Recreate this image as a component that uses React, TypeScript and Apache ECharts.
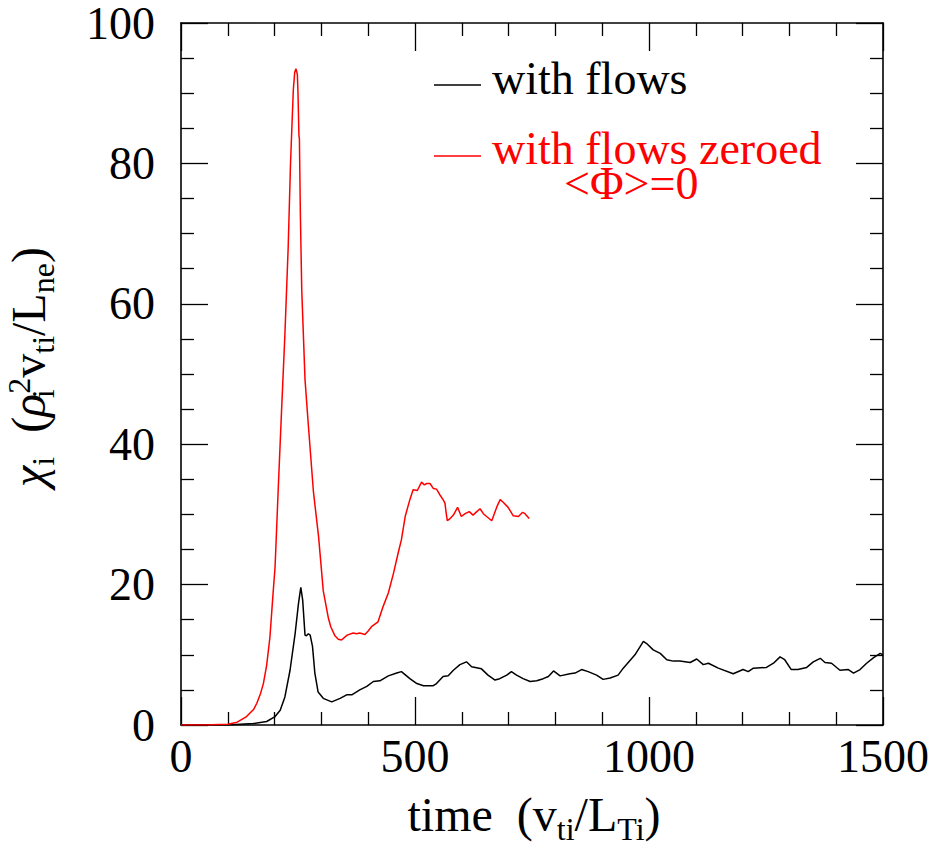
import React, { useEffect, useRef } from "react";
import * as echarts from "echarts";

// time values (v_ti / L_Ti) and chi_i values for the run with flows (black)
const flowsTime = [
  0, 100, 154, 183, 201, 212, 222, 233, 244, 251, 256, 260, 265, 268, 272, 276, 281, 286, 293, 304,
  322, 340, 354, 365, 382, 397, 411, 425, 443, 461, 471, 489, 504, 518, 539, 546, 560, 571, 582, 596,
  610, 621, 642, 656, 671, 681, 696, 706, 717, 731, 746, 760, 774, 785, 796, 810, 831, 842, 856, 870,
  888, 902, 917, 934, 945, 970, 988, 995, 1009, 1024, 1038, 1052, 1066, 1088, 1102, 1116, 1127, 1148,
  1180, 1201, 1212, 1223, 1251, 1266, 1280, 1290, 1304, 1318, 1337, 1351, 1366, 1376, 1390, 1408,
  1426, 1437, 1451, 1465, 1480, 1494, 1500,
];
const flowsChi = [
  0, 0, 0.2, 0.5, 1.2, 2.1, 4, 7.8, 13.1, 17.3, 19.6, 17.8, 12.8, 12.7, 13, 12.8, 11.2, 7.4, 4.7, 3.8,
  3.3, 3.8, 4.3, 4.3, 5, 5.5, 6.2, 6.3, 7, 7.4, 7.6, 6.6, 5.9, 5.6, 5.6, 5.9, 6.9, 7, 7.8, 8.6,
  9, 8.3, 8, 7.1, 6.4, 6.6, 7.1, 7.6, 7.1, 6.6, 6.2, 6.3, 6.6, 6.9, 7.7, 7, 7.3, 7.4, 7.9, 7.6,
  7.1, 6.5, 6.7, 7.1, 8.1, 10, 11.9, 11.6, 10.7, 10.2, 9.3, 9.1, 9.1, 8.9, 9.4, 8.6, 8.8, 8.1,
  7.3, 7.9, 7.6, 8.1, 8.2, 8.8, 9.7, 9.3, 7.9, 7.9, 8.2, 9, 9.5, 8.9, 8.8, 7.8,
  7.9, 7.4, 7.9, 8.8, 9.6, 10.2, 10,
];

// run with flows zeroed, <Phi>=0 (red)
const zeroedTime = [
  0, 50, 100, 120, 140, 155, 162, 170, 176, 183, 190, 197, 201, 208, 215, 222, 229, 234, 240, 243,
  245.6, 248.6, 250, 252, 253, 255, 258, 265, 272, 283, 294, 304, 315, 320, 329, 336, 343, 355, 368,
  375, 382, 393, 400, 407, 421, 432, 443, 454, 464, 471, 479, 489, 496, 505, 514, 520, 525, 532, 539,
  546, 553, 560, 564, 567, 569, 575, 582, 591, 599, 607, 616, 624, 632, 639, 646, 653, 664, 675, 682,
  689, 699, 710, 721, 730, 735, 744,
];
const zeroedChi = [
  0, 0, 0.1, 0.4, 1.2, 2.2, 3.1, 4.5, 5.9, 8.5, 12.5, 19, 22.5, 34, 45, 55.6, 68, 80, 90.5, 93,
  93.5, 92.7, 90, 84, 83.5, 73, 62, 49.2, 42.8, 33.2, 26.8, 19.1, 15.2, 14, 12.7, 12.2, 12.1, 12.8, 13.1,
  13, 13.1, 12.9, 13.4, 14, 14.7, 16.9, 18.8, 21.6, 24.5, 26.4, 29.7, 32.1, 33.5, 33.4, 34.6, 34.2, 34.4, 34.4, 33.7,
  33.6, 32.8, 32.1, 31.6, 30, 29.1, 29.4, 29.9, 31, 29.7, 30.1, 30.4, 29.9, 30.4, 30.8, 30.1, 29.7, 29.1, 31.1, 32.1,
  31.7, 31, 29.8, 29.7, 30.3, 30.1, 29.4,
];

const xTicks = { min: 0, max: 1500, interval: 500, minorSplit: 5 };
const yTicks = { min: 0, max: 100, interval: 20, minorSplit: 4 };

const legendLabels = ["with flows", "with flows zeroed", "<Φ>=0"];

const FONT = "'Liberation Serif', 'Times New Roman', serif";

export default function App() {
  const ref = useRef<HTMLDivElement>(null);

  useEffect(() => {
    if (!ref.current) return;
    const chart = echarts.init(ref.current, null, { renderer: "svg" });

    const axisCommon = (showLabel: boolean, margin: number, major: number, split: number) => ({
      type: "value" as const,
      axisLine: { show: true, onZero: false, lineStyle: { color: "#000", width: 1.6 } },
      axisTick: { show: true, inside: true, length: major, lineStyle: { color: "#000", width: 1.3 } },
      minorTick: { show: true, splitNumber: split, length: 13, lineStyle: { color: "#000", width: 1.3 } },
      splitLine: { show: false },
      minorSplitLine: { show: false },
      axisLabel: {
        show: showLabel,
        margin,
        fontSize: 46,
        lineHeight: 34,
        fontFamily: FONT,
        color: "#000",
        formatter: (v: number) => String(v),
      },
    });

    const rich = {
      m: { fontSize: 48, fontFamily: FONT, fill: "#000", lineHeight: 62, verticalAlign: "middle" },
      g: { fontSize: 48, fontFamily: FONT, fontStyle: "italic", fill: "#000", lineHeight: 62, verticalAlign: "middle" },
      s: { fontSize: 32, fontFamily: FONT, fill: "#000", lineHeight: 26, verticalAlign: "bottom" },
      sz: { fontSize: 32, fontFamily: FONT, fill: "#000", lineHeight: 26, verticalAlign: "bottom", width: 0.1 },
      p: { fontSize: 32, fontFamily: FONT, fill: "#000", lineHeight: 32, verticalAlign: "top", padding: [6, 0, 0, 0] },
    };

    chart.setOption({
      animation: false,
      backgroundColor: "#fff",
      grid: { left: 181, right: 55, top: 23, bottom: 122, containLabel: false },
      xAxis: [
        { ...axisCommon(true, 14, 28, xTicks.minorSplit), position: "bottom", min: xTicks.min, max: xTicks.max, interval: xTicks.interval },
        { ...axisCommon(false, 14, 28, xTicks.minorSplit), position: "top", min: xTicks.min, max: xTicks.max, interval: xTicks.interval },
      ],
      yAxis: [
        { ...axisCommon(true, 26, 27, yTicks.minorSplit), position: "left", min: yTicks.min, max: yTicks.max, interval: yTicks.interval },
        { ...axisCommon(false, 26, 27, yTicks.minorSplit), position: "right", min: yTicks.min, max: yTicks.max, interval: yTicks.interval },
      ],
      series: [
        {
          name: legendLabels[0],
          type: "line",
          xAxisIndex: 0,
          yAxisIndex: 0,
          showSymbol: false,
          symbol: "none",
          lineStyle: { color: "#000", width: 1.5 },
          data: flowsTime.map((t, i) => [t, flowsChi[i]]),
        },
        {
          name: legendLabels[1] + " " + legendLabels[2],
          type: "line",
          xAxisIndex: 0,
          yAxisIndex: 0,
          showSymbol: false,
          symbol: "none",
          lineStyle: { color: "#ff0000", width: 1.5 },
          data: zeroedTime.map((t, i) => [t, zeroedChi[i]]),
        },
      ],
      graphic: [
        { type: "line", shape: { x1: 434, y1: 85, x2: 481, y2: 85 }, style: { stroke: "#000", lineWidth: 1.5 } },
        {
          type: "text", x: 492, y: 78,
          style: { text: legendLabels[0], font: `46px ${FONT}`, fill: "#000", align: "left", verticalAlign: "middle", lineHeight: 32 },
        },
        { type: "line", shape: { x1: 434, y1: 156, x2: 481, y2: 156 }, style: { stroke: "#ff0000", lineWidth: 1.5 } },
        {
          type: "text", x: 492, y: 165.5,
          style: {
            text: `{a|${legendLabels[1]}}\n{b|${legendLabels[2]}}`,
            fill: "#ff0000",
            font: `46px ${FONT}`,
            align: "left",
            verticalAlign: "middle",
            rich: {
              a: { fontSize: 46, fontFamily: FONT, fill: "#ff0000", lineHeight: 35 },
              b: { fontSize: 46, fontFamily: FONT, fill: "#ff0000", lineHeight: 35, padding: [0, 0, 0, 72] },
            },
          },
        },
        {
          type: "text", x: 534, y: 814,
          style: {
            text: "{m|time  (v}{s|ti}{m|/L}{s|Ti}{m|)}",
            rich,
            align: "center",
            verticalAlign: "middle",
          },
        },
        {
          type: "text", x: 28, y: 367, rotation: Math.PI / 2,
          style: {
            text: "{g|χ}{s|i}{m|  (}{g|ρ}{sz|i}{p|2}{m|v}{s|ti}{m|/L}{s|ne}{m|)}",
            rich,
            align: "center",
            verticalAlign: "middle",
          },
        },
      ],
    });

    return () => chart.dispose();
  }, []);

  return (
    <div
      ref={ref}
      style={{ position: "absolute", left: 0, top: 0, width: 938, height: 847, background: "#fff" }}
    />
  );
}
